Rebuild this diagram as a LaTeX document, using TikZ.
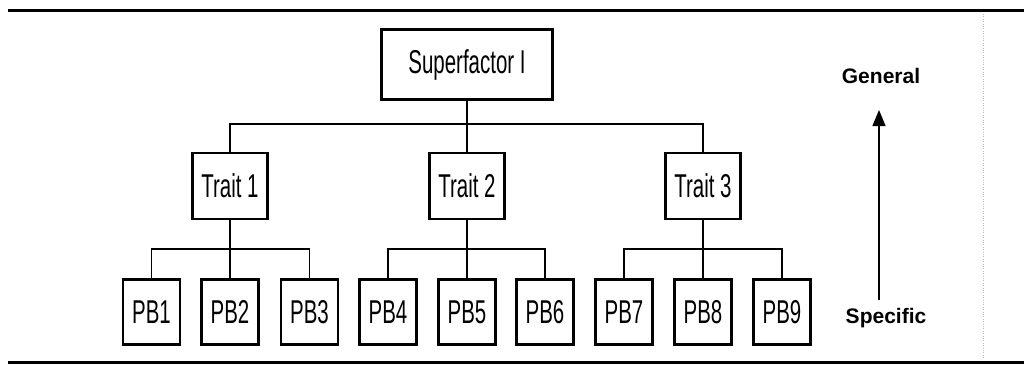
\documentclass[tikz,border=0pt]{standalone}
\usepackage{fontspec}
\newfontfamily\narrowfont[FakeStretch=0.62]{Liberation Sans}
\newfontfamily\labelfont{Liberation Sans}
\usetikzlibrary{
    arrows.meta,
    calc,
    positioning
}

\begin{document}
\begin{tikzpicture}[x=1pt, y=-1pt,
    box/.style={draw, line width=2.8pt, inner sep=0pt, font=\narrowfont\fontsize{33}{33}\selectfont},
    conn/.style={line width=1.3pt},
    rule/.style={line width=3pt}]
                        \useasboundingbox (0, 0) rectangle (1024, 364);
                        \draw[rule] (8, 10) -- (1024, 10);
                        \draw[rule] (8, 362) -- (1024, 362);
                        \draw[gray!50, dotted, thin] (983, 14) -- (983, 358);
                        \node[box, minimum width=171, minimum height=70] (sf) at (467, 64.5) {Superfactor I};
                        \node[box, minimum width=75, minimum height=66] (t1) at (230, 186) {Trait 1};
                        \node[box, minimum width=75, minimum height=66] (t2) at (467, 186) {Trait 2};
                        \node[box, minimum width=75, minimum height=66] (t3) at (703, 186) {Trait 3};
                        \node[box, minimum width=57, minimum height=65] (pb1) at (151.5, 312) {PB1};
                        \node[box, minimum width=57, minimum height=65] (pb2) at (230, 312) {PB2};
                        \node[box, minimum width=57, minimum height=65] (pb3) at (309.5, 312) {PB3};
                        \node[box, minimum width=57, minimum height=65] (pb4) at (388, 312) {PB4};
                        \node[box, minimum width=57, minimum height=65] (pb5) at (467, 312) {PB5};
                        \node[box, minimum width=57, minimum height=65] (pb6) at (545, 312) {PB6};
                        \node[box, minimum width=57, minimum height=65] (pb7) at (624, 312) {PB7};
                        \node[box, minimum width=57, minimum height=65] (pb8) at (703, 312) {PB8};
                        \node[box, minimum width=57, minimum height=65] (pb9) at (782, 312) {PB9};
                        \node[font=\labelfont\bfseries\fontsize{21}{21}\selectfont] (gen) at (881, 76) {General};
                        \node[font=\labelfont\bfseries\fontsize{21}{21}\selectfont] (spec) at (886, 318) {Specific};
                        \coordinate (top) at (0, 124);
                        \coordinate (low) at (0, 249);
                        \coordinate (lo) at (879, 300);
                        \coordinate (hi) at (879, 110);
                        \draw[conn]
                        (sf.south) -- (t2.north)
                        (t1.north) -- (t1.north |- top) -| (t3.north)
                        (t1.south) -- (pb2.north)
                        (pb1.north) -- (pb1.north |- low) -| (pb3.north)
                        (t2.south) -- (pb5.north)
                        (pb4.north) -- (pb4.north |- low) -| (pb6.north)
                        (t3.south) -- (pb8.north)
                        (pb7.north) -- (pb7.north |- low) -| (pb9.north);
                        \draw[line width=1.3pt, -{Triangle[width=13pt, length=16pt]}] (lo) -- (hi);
                    \end{tikzpicture}
\end{document}
